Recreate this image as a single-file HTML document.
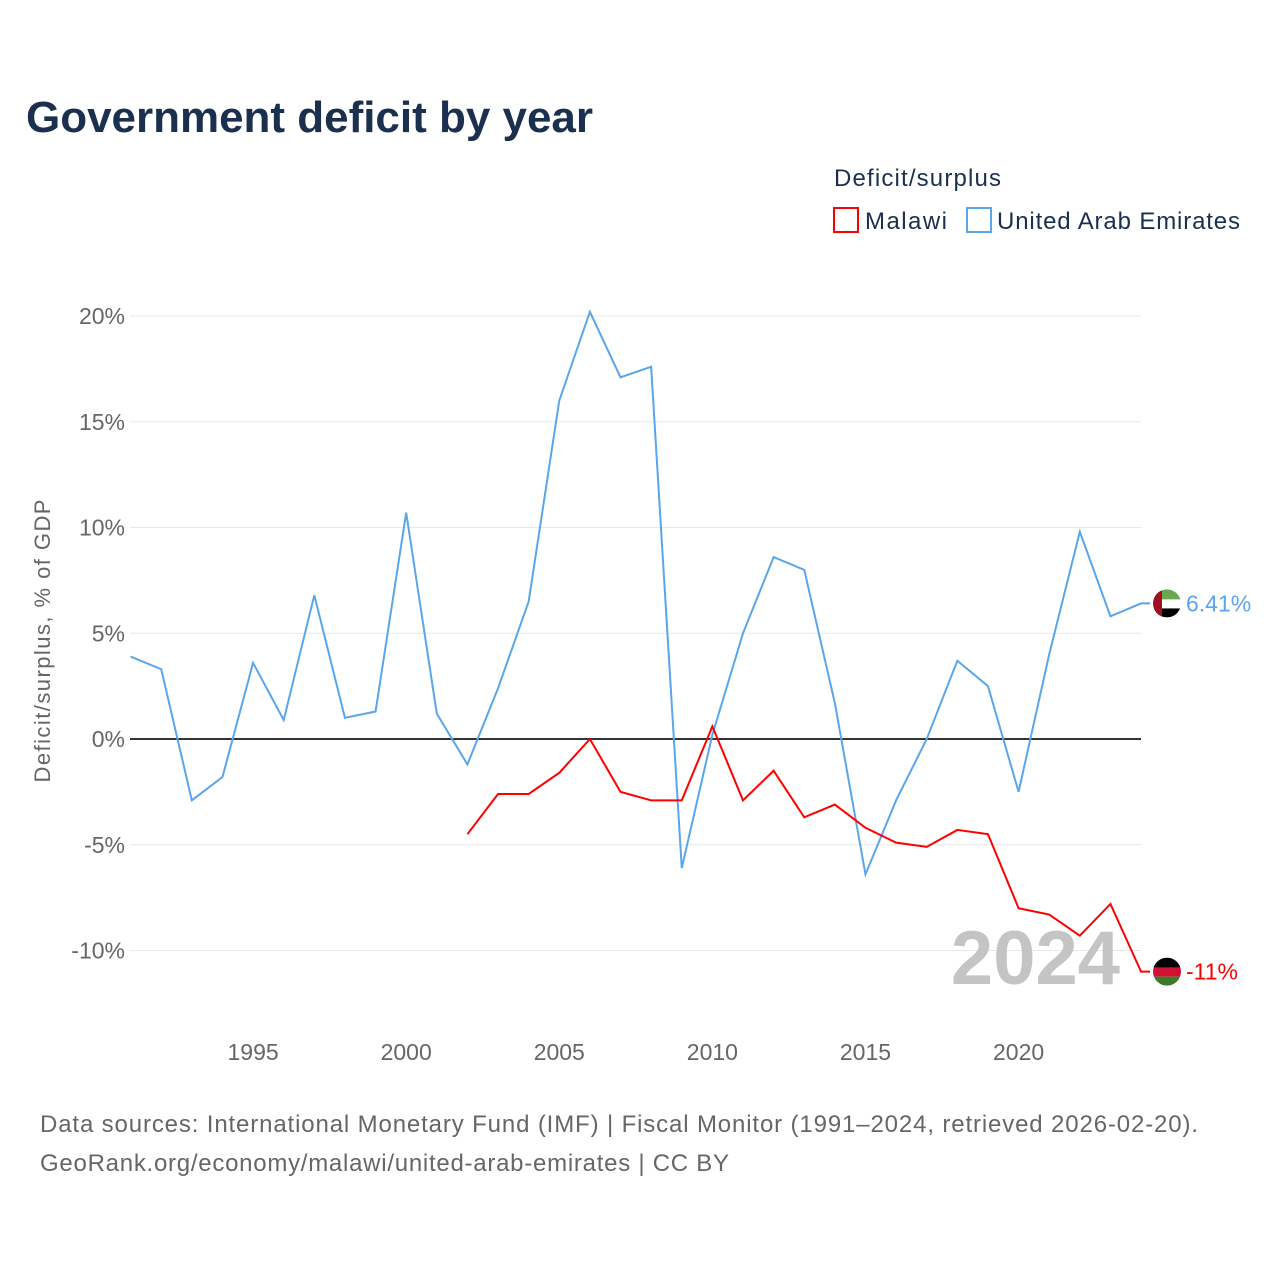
<!DOCTYPE html>
<html><head><meta charset="utf-8"><style>
body{margin:0;background:#fff;font-family:"Liberation Sans",sans-serif}
</style></head><body>
<svg id="chart" width="1280" height="1280" xmlns="http://www.w3.org/2000/svg" font-family="Liberation Sans, sans-serif">
<text x="26" y="132" font-size="44" font-weight="bold" fill="#1b2f4e" textLength="567">Government deficit by year</text>
<text x="834" y="186" font-size="24" fill="#1b2f4e" textLength="167">Deficit/surplus</text>
<g><rect x="834" y="208" width="24" height="24" fill="none" stroke="#ff0000" stroke-width="2"/><text x="865" y="229" font-size="24" fill="#1b2f4e" textLength="82">Malawi</text></g>
<g><rect x="967" y="208" width="24" height="24" fill="none" stroke="#5aa6ea" stroke-width="2"/><text x="997" y="229" font-size="24" fill="#1b2f4e" textLength="243">United Arab Emirates</text></g>
<text transform="translate(50,641) rotate(-90)" text-anchor="middle" font-size="22" fill="#666" textLength="283">Deficit/surplus, % of GDP</text>
<g id="grid"></g><g id="series"></g>
<text x="1120" y="984" text-anchor="end" font-size="76" font-weight="bold" fill="#c4c4c4">2024</text>
<text x="40" y="1132" font-size="24" fill="#666" textLength="1158">Data sources: International Monetary Fund (IMF) | Fiscal Monitor (1991–2024, retrieved 2026-02-20).</text>
<text x="40" y="1171" font-size="24" fill="#666" textLength="689">GeoRank.org/economy/malawi/united-arab-emirates | CC BY</text>
</svg>
<script>
const uaeYears=[1991,1992,1993,1994,1995,1996,1997,1998,1999,2000,2001,2002,2003,2004,2005,2006,2007,2008,2009,2010,2011,2012,2013,2014,2015,2016,2017,2018,2019,2020,2021,2022,2023,2024];
const uaeValues=[3.9,3.3,-2.9,-1.8,3.6,0.9,6.8,1.0,1.3,10.7,1.2,-1.2,2.4,6.5,16.0,20.2,17.1,17.6,-6.1,0.2,5.0,8.6,8.0,1.7,-6.4,-2.9,0.0,3.7,2.5,-2.5,4.0,9.8,5.8,6.41];
const mwYears=[2002,2003,2004,2005,2006,2007,2008,2009,2010,2011,2012,2013,2014,2015,2016,2017,2018,2019,2020,2021,2022,2023,2024];
const mwValues=[-4.5,-2.6,-2.6,-1.6,0.0,-2.5,-2.9,-2.9,0.6,-2.9,-1.5,-3.7,-3.1,-4.2,-4.9,-5.1,-4.3,-4.5,-8.0,-8.3,-9.3,-7.8,-11];
const yTicks=[20,15,10,5,0,-5,-10];
const xTicks=[1995,2000,2005,2010,2015,2020];
const NS="http://www.w3.org/2000/svg";
const X=y=>130.6+(y-1991)*30.62;
const Y=v=>739-v*21.15;
function mk(t,a,p){const e=document.createElementNS(NS,t);for(const k in a)e.setAttribute(k,a[k]);p.appendChild(e);return e;}
const g=document.getElementById('grid'),s=document.getElementById('series');
yTicks.forEach(v=>{
 const l=mk('line',{x1:130,x2:1141,y1:Y(v),y2:Y(v),stroke:v===0?'#333':'#e8e8e8','stroke-width':v===0?2:1},g);
 
 
 const t=mk('text',{x:125,y:Y(v)+8,'text-anchor':'end','font-size':23,fill:'#666'},g);t.textContent=v+'%';
 
 
});
xTicks.forEach(v=>{
 const t=mk('text',{x:X(v),y:1060,'text-anchor':'middle','font-size':23,fill:'#666'},g);t.textContent=v;
 
 
});
function line(xs,vs,c,name,lbl,flag){
 const last=vs[vs.length-1];
 const pts=xs.map((y,i)=>X(y)+','+Y(vs[i])).join(' ')+' '+(X(xs[xs.length-1])+9)+','+Y(last);
 const p=mk('polyline',{points:pts,fill:'none',stroke:c,'stroke-width':2},s);
 
 
 const cy=Y(last),cx=1167;
 const f=mk('g',{},s);
 
 
 mk('clipPath',{id:name+'c'},f).appendChild(document.createElementNS(NS,'circle')).setAttribute('r',14);
 f.lastChild.firstChild.setAttribute('cx',cx);f.lastChild.firstChild.setAttribute('cy',cy);
 const gg=mk('g',{'clip-path':'url(#'+name+'c)'},f);
 flag.forEach(r=>mk('rect',{x:cx-14+r[0],y:cy-14+r[1],width:r[2],height:r[3],fill:r[4]},gg));
 const t=mk('text',{x:1186,y:cy+8,'font-size':23,fill:c},s);t.textContent=lbl;
 
 
}
line(uaeYears,uaeValues,'#5aa6ea','uae-line','6.41%',[[0,0,28,10,'#6aa84f'],[0,10,28,9,'#fff'],[0,19,28,9,'#000'],[0,0,9,28,'#a01020']]);
line(mwYears,mwValues,'#ff0000','malawi-line','-11%',[[0,0,28,10,'#000'],[0,10,28,9,'#d21034'],[0,19,28,9,'#3b7a2b']]);
</script>
</body></html>
